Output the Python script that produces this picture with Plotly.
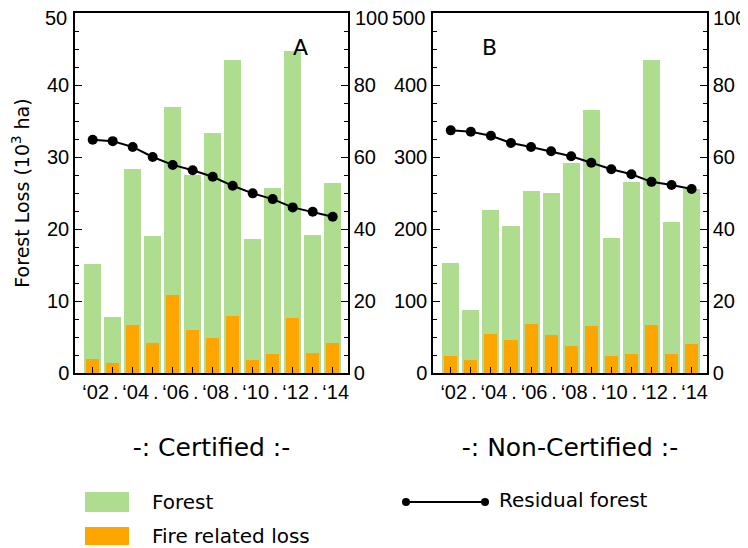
import plotly.graph_objects as go

# ---------------- data ----------------
years = list(range(2002, 2015))
tick_text = ["\u201802", ".", "\u201804", ".", "\u201806", ".", "\u201808", ".",
             "\u201810", ".", "\u201812", ".", "\u201814"]

cert_forest = [15.2, 7.8, 28.4, 19.0, 37.0, 27.5, 33.3, 43.5, 18.6, 25.7, 44.7, 19.2, 26.4]
cert_fire = [2.0, 1.4, 6.7, 4.1, 10.9, 6.0, 4.9, 7.9, 1.85, 2.7, 7.7, 2.8, 4.1]
cert_residual = [64.8, 64.4, 62.8, 60.0, 57.8, 56.3, 54.5, 52.0, 49.9, 48.3, 46.0, 44.8, 43.4]

noncert_forest = [153, 88, 226, 204, 253, 250, 291, 365, 188, 265, 435, 210, 255]
noncert_fire = [24, 18.5, 54.5, 46, 68.5, 53, 38, 65.5, 24, 27, 67, 27, 40.5]
noncert_residual = [67.4, 67.0, 65.9, 63.9, 62.8, 61.6, 60.2, 58.4, 56.6, 55.2, 53.1, 52.2, 51.1]

cert_loss_ticks = [0, 10, 20, 30, 40, 50]
noncert_loss_ticks = [0, 100, 200, 300, 400, 500]
residual_ticks = [0, 20, 40, 60, 80, 100]

# ---------------- style ----------------
GREEN = "#aedd8f"
ORANGE = "#ffa500"
FONT = "DejaVu Sans"
TFONT = "Liberation Sans"
W, H = 748, 548
OFF = 8  # page body offset
ML, MR, MT, MB = 75 - OFF, W - (707 - OFF), 13 - OFF, H - (373 - OFF)
PW, PH = W - ML - MR, H - MT - MB


def px_x(px):
    return (px - OFF - ML) / PW


def px_y(py):
    return 1 - (py - OFF - MT) / PH


fig = go.Figure()

panels = [
    ("x", "y", "y2", cert_forest, cert_fire, cert_residual),
    ("x2", "y3", "y4", noncert_forest, noncert_fire, noncert_residual),
]
for xa, ya, ya2, forest, fire, resid in panels:
    fig.add_trace(go.Bar(x=years, y=forest, width=0.85, marker_color=GREEN,
                         marker_line_width=0, name="Forest", showlegend=False,
                         xaxis=xa, yaxis=ya))
    fig.add_trace(go.Bar(x=years, y=fire, width=0.65, marker_color=ORANGE,
                         marker_line_width=0, name="Fire related loss", showlegend=False,
                         xaxis=xa, yaxis=ya))
    fig.add_trace(go.Scatter(x=years, y=resid, mode="lines+markers",
                             line=dict(color="black", width=2),
                             marker=dict(color="black", size=10),
                             name="Residual forest", showlegend=False,
                             xaxis=xa, yaxis=ya2))

TICKFONT = dict(family=TFONT, size=20, color="black")
axis_common = dict(showline=True, linecolor="black", linewidth=1.5, showgrid=False,
                   zeroline=False, ticks="inside", tickcolor="black",
                   ticklabeloverflow="allow", tickfont=TICKFONT)

xcommon = dict(axis_common, range=[2001.115, 2014.765], tickmode="array",
               tickvals=years, ticktext=tick_text, ticklen=6, tickwidth=1.2,
               tickangle=0, mirror=True, ticklabelshift=3)


def yax(ticks, minor_step, **kw):
    # the top tick value sits on the frame; its label is drawn separately below
    return dict(axis_common, range=[ticks[0], ticks[-1]], tickmode="array",
                tickvals=ticks[:-1], ticklen=7, tickwidth=1.2,
                minor=dict(dtick=minor_step, ticks="inside", ticklen=4, tickcolor="black"),
                **kw)


fig.update_layout(
    width=W, height=H,
    margin=dict(l=ML, r=MR, t=MT, b=MB, autoexpand=False),
    paper_bgcolor="white", plot_bgcolor="white",
    barmode="overlay", bargap=0,
    font=dict(family=FONT, color="black"),
    xaxis=dict(xcommon, domain=[0, px_x(348)], anchor="y",
               title=dict(text="-: Certified :-", font=dict(family=FONT, size=25),
                          standoff=37)),
    xaxis2=dict(xcommon, domain=[px_x(433), 1], anchor="y3",
                title=dict(text="-: Non-Certified :-", font=dict(family=FONT, size=25),
                           standoff=37)),
    yaxis=yax(cert_loss_ticks, 2.5, domain=[0, 1], anchor="x",
              title=dict(text="Forest Loss (10<sup>3</sup> ha)",
                         font=dict(family=FONT, size=19), standoff=12)),
    yaxis2=yax(residual_ticks, 5, overlaying="y", anchor="x", side="right"),
    yaxis3=yax(noncert_loss_ticks, 25, domain=[0, 1], anchor="x2"),
    yaxis4=yax(residual_ticks, 5, overlaying="y3", anchor="x2", side="right"),
)

# top tick labels (nudged down slightly so they stay inside the page)
for xref, yref, ticks, xpos, anchor, shift in [
    ("x domain", "y", cert_loss_ticks, 0, "right", -7),
    ("x domain", "y2", residual_ticks, 1, "left", 6),
    ("x2 domain", "y3", noncert_loss_ticks, 0, "right", -7),
    ("x2 domain", "y4", residual_ticks, 1, "left", 5),
]:
    fig.add_annotation(text=str(ticks[-1]), xref=xref, yref=yref, x=xpos, y=ticks[-1],
                       xanchor=anchor, yanchor="middle", xshift=shift, yshift=-5,
                       showarrow=False, font=TICKFONT, borderpad=0)

# panel letters
fig.add_annotation(text="A", xref="x domain", yref="y domain", x=0.86, y=0.945,
                   showarrow=False, font=dict(family=FONT, size=22, color="black"))
fig.add_annotation(text="B", xref="x2 domain", yref="y3 domain", x=0.17, y=0.945,
                   showarrow=False, font=dict(family=FONT, size=22, color="black"))

# ---------------- legend (drawn) ----------------
legend_font = dict(family=FONT, size=20, color="black")
fig.add_shape(type="rect", xref="paper", yref="paper",
              x0=px_x(85), x1=px_x(129), y0=px_y(512), y1=px_y(492),
              fillcolor=GREEN, line_width=0)
fig.add_shape(type="rect", xref="paper", yref="paper",
              x0=px_x(85), x1=px_x(129), y0=px_y(545), y1=px_y(527),
              fillcolor=ORANGE, line_width=0)
fig.add_annotation(text="Forest", xref="paper", yref="paper", x=px_x(150), y=px_y(502),
                   xanchor="left", yanchor="middle", showarrow=False, font=legend_font)
fig.add_annotation(text="Fire related loss", xref="paper", yref="paper", x=px_x(150),
                   y=px_y(536), xanchor="left", yanchor="middle", showarrow=False,
                   font=legend_font)
fig.add_shape(type="line", xref="paper", yref="paper",
              x0=px_x(406), x1=px_x(485), y0=px_y(502), y1=px_y(502),
              line=dict(color="black", width=2))
for cx in (406, 485):
    fig.add_shape(type="circle", xref="paper", yref="paper",
                  x0=px_x(cx - 4), x1=px_x(cx + 4), y0=px_y(506), y1=px_y(498),
                  fillcolor="black", line_width=0)
fig.add_annotation(text="Residual forest", xref="paper", yref="paper", x=px_x(497),
                   y=px_y(500), xanchor="left", yanchor="middle", showarrow=False,
                   font=legend_font)

fig.write_html("out.html")
